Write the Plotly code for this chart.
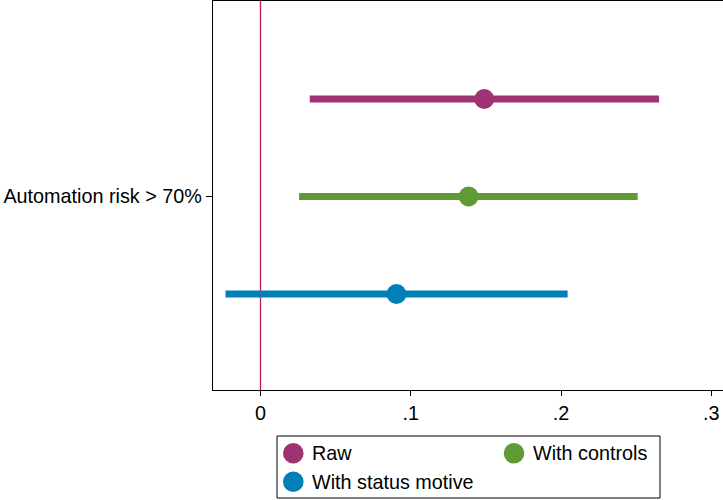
import plotly.graph_objects as go

# Coefficient estimates with 95% confidence intervals
models = ["Raw", "With controls", "With status motive"]
estimates = [0.1489, 0.1385, 0.0905]
ci_low = [0.0328, 0.0257, -0.0233]
ci_high = [0.2652, 0.2510, 0.2044]
colors = ["#9E3273", "#5F9B35", "#0080B6"]
row_pos = [1, 2, 3]

category_label = "Automation risk > 70%"
tick_vals = [0, 0.1, 0.2, 0.3]
tick_text = ["0", ".1", ".2", ".3"]

# legend grid: (column, row) of each entry
legend_cells = [(0, 0), (1, 0), (0, 1)]

W, H = 723, 500
M_L, M_R, M_T, M_B = 213, 0, 1, 110
PW, PH = W - M_L - M_R, H - M_T - M_B


def px_x(px):
    return (px - M_L) / PW


def px_y(py):
    return (H - M_B - py) / PH


fig = go.Figure()

for name, est, lo, hi, col, y in zip(models, estimates, ci_low, ci_high, colors, row_pos):
    # confidence interval bar
    fig.add_trace(go.Scatter(
        x=[lo, hi], y=[y, y], mode="lines",
        line=dict(color=col, width=7), showlegend=False, hoverinfo="skip",
    ))
    # point estimate
    fig.add_trace(go.Scatter(
        x=[est], y=[y], mode="markers", name=name, showlegend=False,
        marker=dict(color=col, size=20, line=dict(width=0)),
    ))

fig.add_vline(x=0, line=dict(color="#C8194C", width=1.3), layer="below")

font = dict(family="Liberation Sans, Arial, sans-serif", size=19.8, color="#000000")

# legend box below the plot
fig.add_shape(
    type="rect", xref="paper", yref="paper",
    x0=px_x(277), x1=px_x(660), y0=px_y(498), y1=px_y(436),
    line=dict(color="#000000", width=1), fillcolor="white",
)
col_x = [293.3, 514]
row_y = [453.3, 481.7]
for name, col, (c, r) in zip(models, colors, legend_cells):
    cx, cy = px_x(col_x[c]), px_y(row_y[r])
    fig.add_shape(
        type="circle", xref="paper", yref="paper",
        xsizemode="pixel", ysizemode="pixel", xanchor=cx, yanchor=cy,
        x0=-10.3, x1=10.3, y0=-10.3, y1=10.3,
        fillcolor=col, line=dict(width=0),
    )
    fig.add_annotation(
        x=cx, y=cy, xref="paper", yref="paper", text=name, showarrow=False,
        xanchor="left", yanchor="middle", xshift=17, font=font,
    )

fig.update_layout(
    width=W, height=H,
    margin=dict(l=M_L, r=M_R, t=M_T, b=M_B),
    plot_bgcolor="white", paper_bgcolor="white",
    font=font, showlegend=False,
    xaxis=dict(
        range=[-0.0316, 0.3078], tickvals=tick_vals, ticktext=tick_text,
        showgrid=False, zeroline=False, showline=True, mirror=True,
        linecolor="#000000", linewidth=1.3,
        ticks="outside", ticklen=5, tickcolor="#000000", tickwidth=1.3,
    ),
    yaxis=dict(
        range=[3.985, -0.005], tickvals=[2], ticktext=[category_label],
        showgrid=False, zeroline=False, showline=True,
        linecolor="#000000", linewidth=1.3,
        ticks="outside", ticklen=6, tickcolor="#000000", tickwidth=1.3,
    ),
)

fig.write_html("out.html")
